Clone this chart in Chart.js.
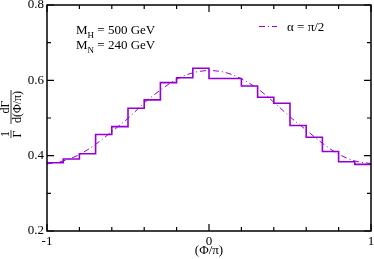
<!DOCTYPE html>
<html>
<head>
<meta charset="utf-8">
<script src="https://cdn.jsdelivr.net/npm/chart.js@4"></script>
<style>
  html, body { margin: 0; padding: 0; background: #fff; }
  #wrap { width: 374px; height: 259px; }
</style>
</head>
<body>
<div id="wrap"><canvas id="chart" width="374" height="259"></canvas></div>
<script>
// histogram: 20 bins of width 0.1 between -1 and 1
const binEdges = [-1, -0.9, -0.8, -0.7, -0.6, -0.5, -0.4, -0.3, -0.2, -0.1,
                  0, 0.1, 0.2, 0.3, 0.4, 0.5, 0.6, 0.7, 0.8, 0.9, 1];
const histValues = [0.381, 0.391, 0.405, 0.456, 0.477, 0.526, 0.548, 0.594, 0.607, 0.632,
                    0.605, 0.605, 0.585, 0.555, 0.539, 0.480, 0.449, 0.411, 0.384, 0.377];

// dash-dot curve (alpha = pi/2)
const curveX = [-1, -0.9, -0.8, -0.7, -0.6, -0.5, -0.4, -0.3, -0.2, -0.1,
                0, 0.1, 0.2, 0.3, 0.4, 0.5, 0.6, 0.7, 0.8, 0.9, 1];
const curveValues = [0.378, 0.386, 0.403, 0.430, 0.464, 0.499, 0.540, 0.574, 0.603, 0.620,
                     0.626, 0.621, 0.604, 0.578, 0.542, 0.503, 0.468, 0.433, 0.404, 0.386, 0.379];

const xMajorTicks = [-1, 0, 1];
const xMinorTicks = [-0.8, -0.6, -0.4, -0.2, 0.2, 0.4, 0.6, 0.8];
const yMajorTicks = [0.2, 0.4, 0.6, 0.8];
const yMinorTicks = [0.3, 0.5, 0.7];

const purple = '#9400d3';
const serif = '"Liberation Serif", "DejaVu Serif", serif';

// last bin needs a closing point for the stepped line
const histPoints = binEdges.map((x, i) => ({ x: x, y: histValues[Math.min(i, histValues.length - 1)] }));
const curvePoints = curveX.map((x, i) => ({ x: x, y: curveValues[i] }));

function font(size) {
    return size + 'px ' + serif;
}

const framePlugin = {
    id: 'frame',
    afterDraw(chart) {
        const ctx = chart.ctx;
        const a = chart.chartArea;
        const xs = chart.scales.x, ys = chart.scales.y;
        ctx.save();
        ctx.strokeStyle = '#000';
        ctx.lineWidth = 1.5;
        ctx.strokeRect(a.left, a.top, a.right - a.left, a.bottom - a.top);

        // inward ticks on all four sides
        ctx.lineWidth = 1.2;
        ctx.beginPath();
        const xt = (v, len) => {
            const px = xs.getPixelForValue(v);
            ctx.moveTo(px, a.bottom); ctx.lineTo(px, a.bottom - len);
            ctx.moveTo(px, a.top); ctx.lineTo(px, a.top + len);
        };
        const yt = (v, len) => {
            const py = ys.getPixelForValue(v);
            ctx.moveTo(a.left, py); ctx.lineTo(a.left + len, py);
            ctx.moveTo(a.right, py); ctx.lineTo(a.right - len, py);
        };
        xMajorTicks.forEach(v => xt(v, 7));
        xMinorTicks.forEach(v => xt(v, 4));
        yMajorTicks.forEach(v => yt(v, 7));
        yMinorTicks.forEach(v => yt(v, 4));
        ctx.stroke();

        ctx.fillStyle = '#000';
        ctx.textBaseline = 'alphabetic';

        // mass labels
        ctx.textAlign = 'left';
        const massLine = (sub, rest, y) => {
            let x = 76;
            ctx.font = font(13);
            ctx.fillText('M', x, y);
            x += ctx.measureText('M').width;
            ctx.font = font(9);
            ctx.fillText(sub, x, y + 4);
            x += ctx.measureText(sub).width;
            ctx.font = font(13);
            ctx.fillText(rest, x, y);
        };
        massLine('H', ' = 500 GeV', 34);
        massLine('N', ' = 240 GeV', 49);

        // legend
        ctx.strokeStyle = purple;
        ctx.lineWidth = 1;
        ctx.setLineDash([6, 3, 1, 3]);
        ctx.beginPath();
        ctx.moveTo(259, 26.5); ctx.lineTo(277, 26.5);
        ctx.stroke();
        ctx.setLineDash([]);
        ctx.font = font(13);
        ctx.fillText('\u03b1 = \u03c0/2', 287, 31);

        // x axis title
        ctx.textAlign = 'center';
        ctx.fillText('(\u03a6/\u03c0)', (a.left + a.right) / 2, 254);

        // y axis title: 1/Γ dΓ/d(Φ/π), rotated
        const frac = (num, den, cy, barX, halfLen) => {
            ctx.save();
            ctx.translate(barX, cy);
            ctx.rotate(-Math.PI / 2);
            ctx.font = font(12);
            ctx.textAlign = 'center';
            ctx.fillText(num, 0, -2);
            ctx.textBaseline = 'top';
            ctx.fillText(den, 0, 1);
            ctx.strokeStyle = '#000';
            ctx.lineWidth = 0.8;
            ctx.beginPath();
            ctx.moveTo(-halfLen, 0); ctx.lineTo(halfLen, 0);
            ctx.stroke();
            ctx.restore();
        };
        frac('1', '\u0393', 134, 11, 4);
        frac('d\u0393', 'd(\u03a6/\u03c0)', 107, 11, 17);
        ctx.restore();
    }
};

new Chart(document.getElementById('chart').getContext('2d'), {
    type: 'line',
    data: {
        datasets: [
            {
                label: 'hist',
                data: histPoints,
                stepped: 'before',
                borderColor: purple,
                borderWidth: 1.6,
                pointRadius: 0,
                fill: false
            },
            {
                label: '\u03b1 = \u03c0/2',
                data: curvePoints,
                borderColor: purple,
                borderWidth: 1,
                borderDash: [6, 3, 1, 3],
                cubicInterpolationMode: 'monotone',
                pointRadius: 0,
                fill: false
            }
        ]
    },
    options: {
        responsive: false,
        animation: false,
        layout: { autoPadding: false, padding: { top: 5, right: 3, left: 0, bottom: 0 } },
        plugins: { legend: { display: false }, tooltip: { enabled: false } },
        scales: {
            x: {
                type: 'linear',
                min: -1, max: 1,
                grid: { display: false, drawTicks: false },
                border: { display: false },
                ticks: {
                    stepSize: 1,
                    padding: 3,
                    color: '#000',
                    font: { family: serif, size: 13 },
                    callback: v => String(v)
                },
                afterFit: s => { s.height = 28; s.paddingLeft = 0; s.paddingRight = 0; }
            },
            y: {
                min: 0.2, max: 0.8,
                grid: { display: false, drawTicks: false },
                border: { display: false },
                ticks: {
                    stepSize: 0.2,
                    padding: 3,
                    color: '#000',
                    font: { family: serif, size: 13 },
                    callback: v => v.toFixed(1)
                },
                afterFit: s => { s.width = 47; s.paddingTop = 0; s.paddingBottom = 0; }
            }
        }
    },
    plugins: [framePlugin]
});
</script>
</body>
</html>
